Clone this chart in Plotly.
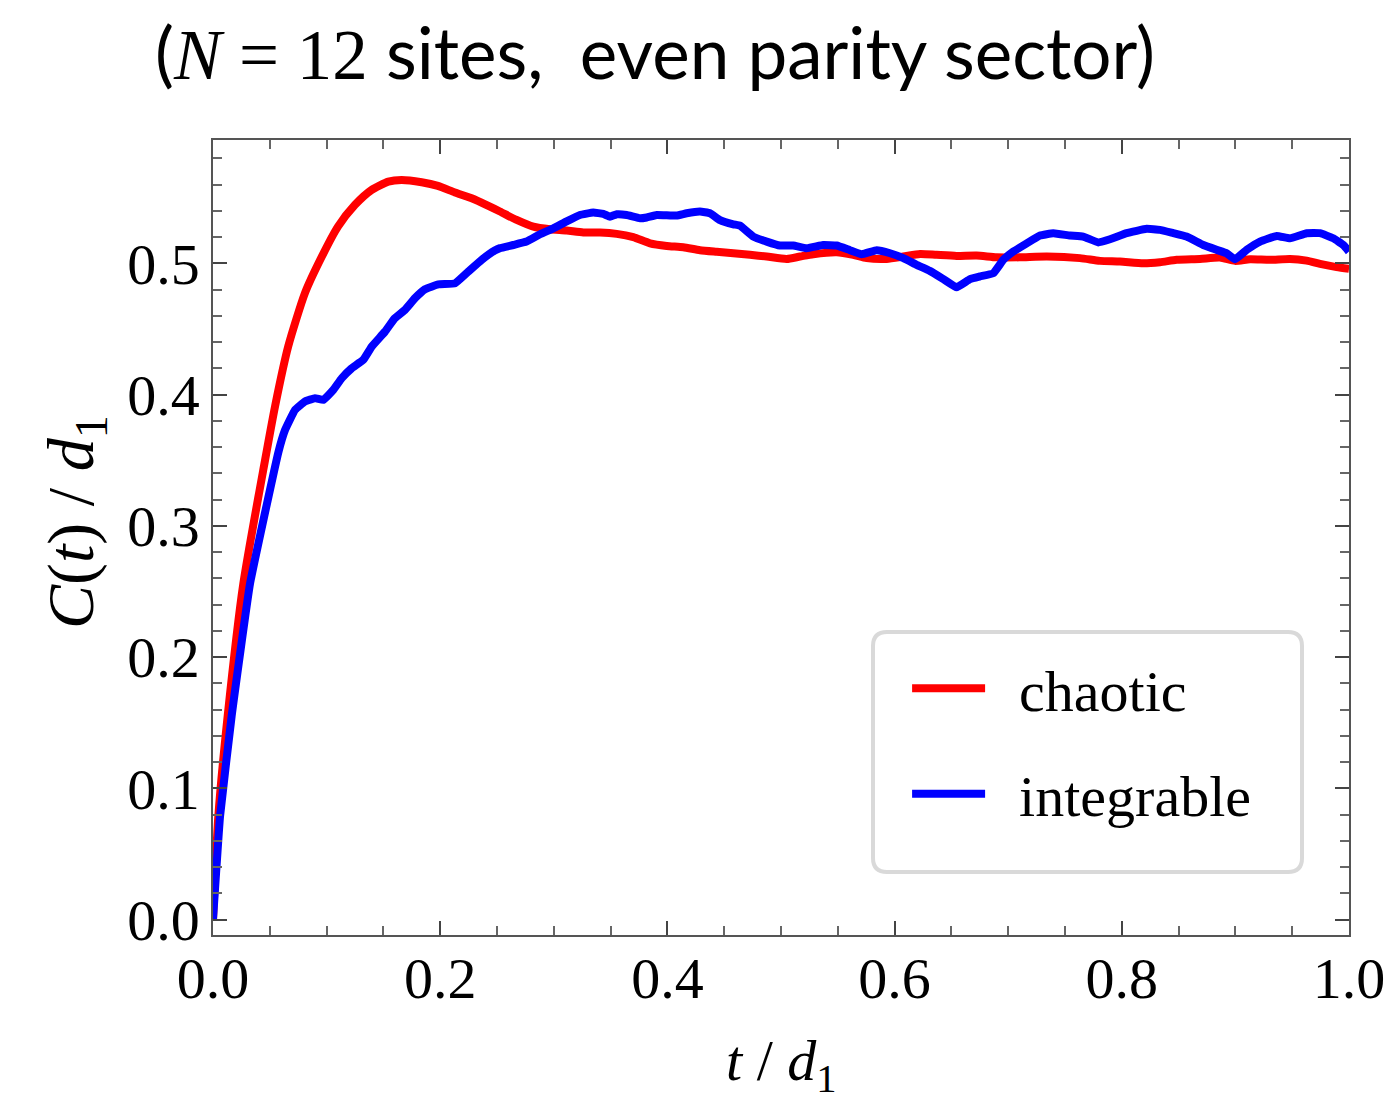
import plotly.graph_objects as go

# ---- data ----
chaotic_t = [0.0, 0.0047, 0.0129, 0.0267, 0.0458, 0.0546, 0.0663, 0.081, 0.0957, 0.110,
             0.125, 0.1397, 0.1543, 0.166, 0.1837, 0.198, 0.213, 0.2277, 0.2424, 0.2526,
             0.2673, 0.282, 0.2967, 0.3113, 0.326, 0.3407, 0.3554, 0.370, 0.3847, 0.3994,
             0.414, 0.4287, 0.4434, 0.458, 0.4727, 0.4874, 0.505, 0.5167, 0.5284, 0.549,
             0.5636, 0.5754, 0.593, 0.6077, 0.6224, 0.637, 0.6546, 0.6722, 0.6898, 0.710,
             0.734, 0.7632, 0.7808, 0.7984, 0.819, 0.8336, 0.8483, 0.8688, 0.8864, 0.8996,
             0.9129, 0.9305, 0.948, 0.9627, 0.9745, 0.9891, 1.0]
chaotic_c = [0.0, 0.079, 0.155, 0.256, 0.350, 0.391, 0.437, 0.4775, 0.505, 0.528,
             0.5446, 0.556, 0.5623, 0.5636, 0.5618, 0.559, 0.554, 0.5496, 0.5438, 0.5395,
             0.5331, 0.528, 0.526, 0.525, 0.5235, 0.5235, 0.5225, 0.520, 0.5153, 0.5133,
             0.5123, 0.510, 0.5088, 0.5077, 0.5065, 0.5052, 0.5034, 0.5052, 0.507, 0.5085,
             0.5065, 0.504, 0.5034, 0.5052, 0.5072, 0.5065, 0.5057, 0.506, 0.5046, 0.5046,
             0.5052, 0.504, 0.5019, 0.5014, 0.5001, 0.5009, 0.5027, 0.5034, 0.5044, 0.5019,
             0.5031, 0.5027, 0.5034, 0.5021, 0.4996, 0.4971, 0.4958]

integrable_t = [0.0, 0.0062, 0.0164, 0.0326, 0.0575, 0.0634, 0.0722, 0.081, 0.0898, 0.0971,
                0.1059, 0.1133, 0.122, 0.1323, 0.1397, 0.1514, 0.160, 0.169, 0.1778, 0.1866,
                0.1983, 0.213, 0.2248, 0.2365, 0.248, 0.2526, 0.2644, 0.276, 0.2879, 0.2996,
                0.3113, 0.323, 0.3348, 0.3436, 0.3495, 0.3554, 0.3642, 0.3759, 0.3818, 0.3906,
                0.408, 0.417, 0.4287, 0.4375, 0.4463, 0.458, 0.4639, 0.4756, 0.4874, 0.4991,
                0.5108, 0.5226, 0.5372, 0.549, 0.5607, 0.571, 0.5842, 0.596, 0.6077, 0.6194,
                0.631, 0.643, 0.6546, 0.6664, 0.675, 0.6869, 0.6957, 0.7045, 0.7163, 0.728,
                0.7397, 0.7544, 0.766, 0.7793, 0.7896, 0.8043, 0.8219, 0.8336, 0.8453, 0.857,
                0.8717, 0.8835, 0.8923, 0.8996, 0.910, 0.9217, 0.9364, 0.948, 0.9627, 0.9745,
                0.9862, 0.995, 1.0]
integrable_c = [0.0, 0.0787, 0.155, 0.256, 0.356, 0.373, 0.3884, 0.3948, 0.3973, 0.396,
                0.4036, 0.4125, 0.420, 0.4265, 0.4366, 0.448, 0.4582, 0.4646, 0.4735, 0.4803,
                0.484, 0.4848, 0.4938, 0.5027, 0.5098, 0.5116, 0.514, 0.5166, 0.5222, 0.5267,
                0.532, 0.5369, 0.5387, 0.5377, 0.5356, 0.5374, 0.5369, 0.5344, 0.535, 0.5369,
                0.5364, 0.5382, 0.5395, 0.5382, 0.533, 0.5298, 0.5287, 0.5204, 0.5166, 0.5136,
                0.5136, 0.5115, 0.514, 0.5136, 0.510, 0.507, 0.510, 0.5077, 0.504, 0.4989,
                0.4943, 0.488, 0.4818, 0.488, 0.490, 0.4925, 0.5027, 0.509, 0.5153, 0.5212,
                0.523, 0.5212, 0.5204, 0.516, 0.5184, 0.523, 0.5263, 0.5255, 0.523, 0.5204,
                0.514, 0.5103, 0.5077, 0.5031, 0.5103, 0.5166, 0.5209, 0.5191, 0.523, 0.523,
                0.5191, 0.514, 0.509]

series_names = ["chaotic", "integrable"]
series_colors = ["#ff0000", "#0000ff"]

x_tickvals = [0.0, 0.2, 0.4, 0.6, 0.8, 1.0]
y_tickvals = [0.0, 0.1, 0.2, 0.3, 0.4, 0.5]

SERIF = "Liberation Serif"

fig = go.Figure()
fig.add_trace(go.Scatter(x=chaotic_t, y=chaotic_c, mode="lines",
                         name="&nbsp;&nbsp;" + series_names[0], legendgroup="g1",
                         line=dict(color=series_colors[0], width=8, shape="spline", smoothing=0.6)))
fig.add_trace(go.Scatter(x=integrable_t, y=integrable_c, mode="lines",
                         name="&nbsp;&nbsp;" + series_names[1], legendgroup="g2",
                         line=dict(color=series_colors[1], width=8, shape="spline", smoothing=0.3)))

axis_common = dict(
    showgrid=False, zeroline=False, automargin=False,
    showline=True, linecolor="#555555", linewidth=1.5, mirror="allticks",
    ticks="inside", ticklen=14, tickwidth=1.5, tickcolor="#444444",
    tickfont=dict(family=SERIF, size=58, color="black"),
    tickformat=".1f",
)

fig.update_xaxes(**axis_common, range=[0, 1.0], tickvals=x_tickvals, ticklabelstandoff=-8,
                 minor=dict(dtick=0.05, ticklen=9, tickwidth=1.5, tickcolor="#666666", ticks="inside"))
fig.update_yaxes(**axis_common, range=[-0.0117, 0.594], tickvals=y_tickvals,
                 minor=dict(dtick=0.02, ticklen=9, tickwidth=1.5, tickcolor="#666666", ticks="inside"))

# axis titles as annotations
axis_titles = [
    dict(text="<i>t</i> / <i>d</i><sub>1</sub>", xref="paper", yref="paper",
         x=0.5, y=(935 - 1064) / 795, xanchor="center", yanchor="middle", showarrow=False,
         font=dict(family=SERIF, size=58, color="black")),
    dict(text="<i>C</i>(<i>t</i>)&nbsp;/&nbsp;<i>d</i><sub>1</sub>", xref="paper", yref="paper",
         x=(75 - 213) / 1136, y=(935 - 522) / 795, xanchor="center", yanchor="middle",
         showarrow=False, textangle=-90,
         font=dict(family=SERIF, size=66, color="black")),
]

# rounded legend frame (paper coordinates)
x0, x1 = (873 - 213) / 1136, (1302 - 213) / 1136
yt, yb = (935 - 632) / 795, (935 - 872) / 795
rx, ry = 14 / 1136, 14 / 795
frame_path = (f"M{x0+rx},{yt} L{x1-rx},{yt} Q{x1},{yt} {x1},{yt-ry} "
              f"L{x1},{yb+ry} Q{x1},{yb} {x1-rx},{yb} L{x0+rx},{yb} "
              f"Q{x0},{yb} {x0},{yb+ry} L{x0},{yt-ry} Q{x0},{yt} {x0+rx},{yt} Z")

fig.update_layout(
    width=1395, height=1102,
    margin=dict(l=213, r=46, t=140, b=167),
    paper_bgcolor="white", plot_bgcolor="white",
    title=dict(
        text="(<span style='font-family:Liberation Serif'><i>N</i> = 12</span> sites,&nbsp; even parity sector)",
        font=dict(family="Lato", size=71, color="black"),
        x=155 / 1395, xanchor="left", xref="container",
        y=1 - 54 / 1102, yanchor="middle", yref="container",
    ),
    legend=dict(
        x=0.611, y=0.366, xanchor="left", yanchor="top",
        bgcolor="rgba(255,255,255,0)", borderwidth=0,
        font=dict(family=SERIF, size=58, color="black"),
        itemwidth=73, tracegroupgap=27,
    ),
    annotations=axis_titles,
    shapes=[dict(type="path", xref="paper", yref="paper", path=frame_path,
                 line=dict(color="#d9d9d9", width=4), fillcolor="rgba(255,255,255,0)")],
    showlegend=True,
)

fig.write_html("out.html")
